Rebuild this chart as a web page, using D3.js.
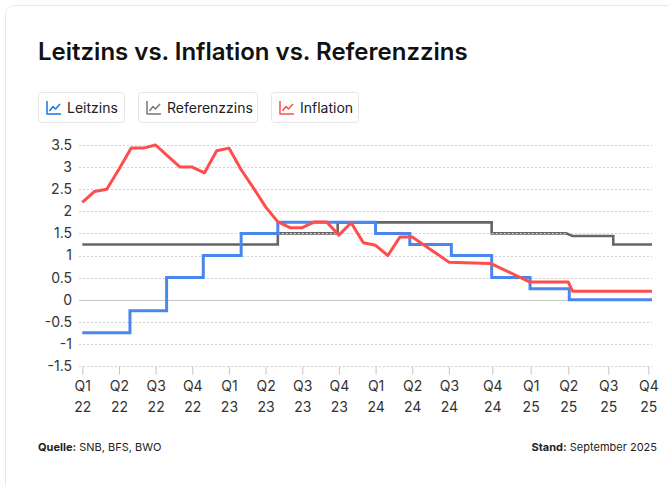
<!DOCTYPE html>
<html><head><meta charset="utf-8">
<script src="https://cdn.jsdelivr.net/npm/d3@7"></script>
<style>
body{margin:0;background:#fff;}
svg{display:block;font-family:Inter,"Noto Sans",sans-serif;}
</style>
</head><body>
<svg id="c" width="669" height="486"></svg>
<script>
// ---- data ----
const quarterLabels = ["Q1 22","Q2 22","Q3 22","Q4 22","Q1 23","Q2 23","Q3 23","Q4 23","Q1 24","Q2 24","Q3 24","Q4 24","Q1 25","Q2 25","Q3 25","Q4 25"];
const quarterPos = [0,3,6,9,12,15,18,21,24,27,30,33.55,36.69,39.77,43.04,46.32];
const yTicks = [3.5,3,2.5,2,1.5,1,0.5,0,-0.5,-1,-1.5];

const inflationT = [0,1,2,3,4,5,6,7,8,9,10,11,12,13,14,15,16,17,18,19,20,21,22,23,24,25,26,27,30,33.4,36.64,39.77,40.13,46.62];
const inflationV = [2.2,2.45,2.5,2.95,3.43,3.43,3.5,3.25,3.0,3.0,2.87,3.37,3.43,2.94,2.53,2.1,1.76,1.63,1.63,1.76,1.76,1.46,1.74,1.29,1.23,1.0,1.42,1.42,0.85,0.82,0.4,0.4,0.19,0.19];

const leitzinsT = [0,3.9,6.9,9.9,13,16,24,26.8,30.2,33.5,36.64,39.85,46.62];
const leitzinsV = [-0.75,-0.25,0.5,1,1.5,1.75,1.5,1.25,1,0.5,0.25,0,0];

const refT = [0,16,16,20.9,20.9,33.5,33.5,39.6,40.1,43.45,43.45,46.62];
const refV = [1.25,1.25,1.5,1.5,1.75,1.75,1.5,1.5,1.44,1.44,1.25,1.25];

const seriesNames = ["Leitzins","Referenzzins","Inflation"];
const seriesColors = ["#4a87ec","#666666","#ff4d4d"];
const legendIconColors = ["#1a73e8","#777777","#ff4d4d"];

// ---- layout ----
const svg = d3.select("#c");
svg.append("rect").attr("x",5.5).attr("y",5.5).attr("width",700).attr("height",520)
  .attr("rx",9).attr("fill","#fff").attr("stroke","#e9e9e9");

svg.append("text").attr("x",38).attr("y",60).attr("font-size",24).attr("font-weight",600)
  .attr("fill","#111").text("Leitzins vs. Inflation vs. Referenzzins");

// legend
const legendX = [38,138,271];
const legendW = [86,119,87];
seriesNames.forEach((n,i)=>{
  const g = svg.append("g").attr("transform",`translate(${legendX[i]},92)`);
  g.append("rect").attr("x",0.5).attr("y",0.5).attr("width",legendW[i]).attr("height",30)
    .attr("rx",3).attr("fill","#fff").attr("stroke","#e6e6e6");
  const ic = g.append("g").attr("transform","translate(8,9)").attr("fill","none")
    .attr("stroke",legendIconColors[i]).attr("stroke-width",1.5).attr("stroke-linejoin","round");
  ic.append("path").attr("d","M1,0V13H15");
  ic.append("path").attr("d","M3.5,10L7,5.5L9.5,8L14,3");
  g.append("text").attr("x",29).attr("y",20.5).attr("font-size",14).attr("fill","#222").text(n);
});

const x = d3.scaleLinear().domain([0,46.62]).range([82.3,652]);
const y = d3.scaleLinear().domain([-1.5,3.5]).range([366,145]);

// grid
const grid = svg.append("g");
yTicks.forEach(v=>{
  grid.append("line").attr("x1",79).attr("x2",652).attr("y1",Math.round(y(v))+0.5).attr("y2",Math.round(y(v))+0.5)
    .attr("stroke", v===0 ? "#c4c4c4" : "#d2d2d2")
    .attr("stroke-dasharray", v===0 ? null : "2,2");
});

// y axis labels
const yAxis = svg.append("g").attr("transform","translate(72,0)")
  .call(d3.axisLeft(y).tickValues(yTicks).tickSize(0).tickPadding(0).tickFormat(d=>String(d)));
yAxis.select(".domain").remove();
yAxis.selectAll("text").attr("font-size",14).attr("fill","#333").attr("font-family","Inter,'Noto Sans',sans-serif");

// x axis
const xAxis = svg.append("g").attr("transform",`translate(0,${Math.round(y(-1.5))+0.5})`)
  .call(d3.axisBottom(x).tickValues(quarterPos).tickSize(8).tickFormat(""));
xAxis.select(".domain").remove();
xAxis.selectAll(".tick line").attr("stroke","#c4c4c4");
xAxis.selectAll(".tick").each(function(d,i){
  const parts = quarterLabels[i].split(" ");
  const t = d3.select(this).append("text").attr("fill","#333").attr("font-size",14)
    .attr("text-anchor","middle").attr("font-family","Inter,'Noto Sans',sans-serif");
  t.append("tspan").attr("x",0).attr("y",24).text(parts[0]);
  t.append("tspan").attr("x",0).attr("y",45).text(parts[1]);
});

// lines
const lineLinear = d3.line().x(d=>x(d[0])).y(d=>y(d[1]));
const lineStep = d3.line().x(d=>x(d[0])).y(d=>y(d[1])).curve(d3.curveStepAfter);

const refData = refT.map((t,i)=>[t,refV[i]]);
const leitData = leitzinsT.map((t,i)=>[t,leitzinsV[i]]);
const inflData = inflationT.map((t,i)=>[t,inflationV[i]]);

svg.append("path").datum(refData).attr("d",lineLinear).attr("fill","none")
  .attr("stroke",seriesColors[1]).attr("stroke-width",2.6).attr("stroke-linejoin","miter");
// gridline at 1.5 drawn over the reference line (dotted look)
svg.append("line").attr("x1",x(16)).attr("x2",x(20.9)).attr("y1",Math.round(y(1.5))+0.5).attr("y2",Math.round(y(1.5))+0.5)
  .attr("stroke","#d2d2d2").attr("stroke-dasharray","2,2");
svg.append("line").attr("x1",x(33.5)).attr("x2",x(39.6)).attr("y1",Math.round(y(1.5))+0.5).attr("y2",Math.round(y(1.5))+0.5)
  .attr("stroke","#d2d2d2").attr("stroke-dasharray","2,2");

svg.append("path").datum(leitData).attr("d",lineStep).attr("fill","none")
  .attr("stroke",seriesColors[0]).attr("stroke-width",3);
svg.append("path").datum(inflData).attr("d",lineLinear).attr("fill","none")
  .attr("stroke",seriesColors[2]).attr("stroke-width",3).attr("stroke-linejoin","round");

// footer
const f1 = svg.append("text").attr("x",38).attr("y",451).attr("font-size",11).attr("fill","#222");
f1.append("tspan").attr("font-weight",700).text("Quelle:");
f1.append("tspan").text(" SNB, BFS, BWO");
const f2 = svg.append("text").attr("x",657).attr("y",451).attr("font-size",11).attr("fill","#222").attr("text-anchor","end");
f2.append("tspan").attr("font-weight",700).text("Stand:");
f2.append("tspan").text(" September 2025");
</script>
</body></html>
